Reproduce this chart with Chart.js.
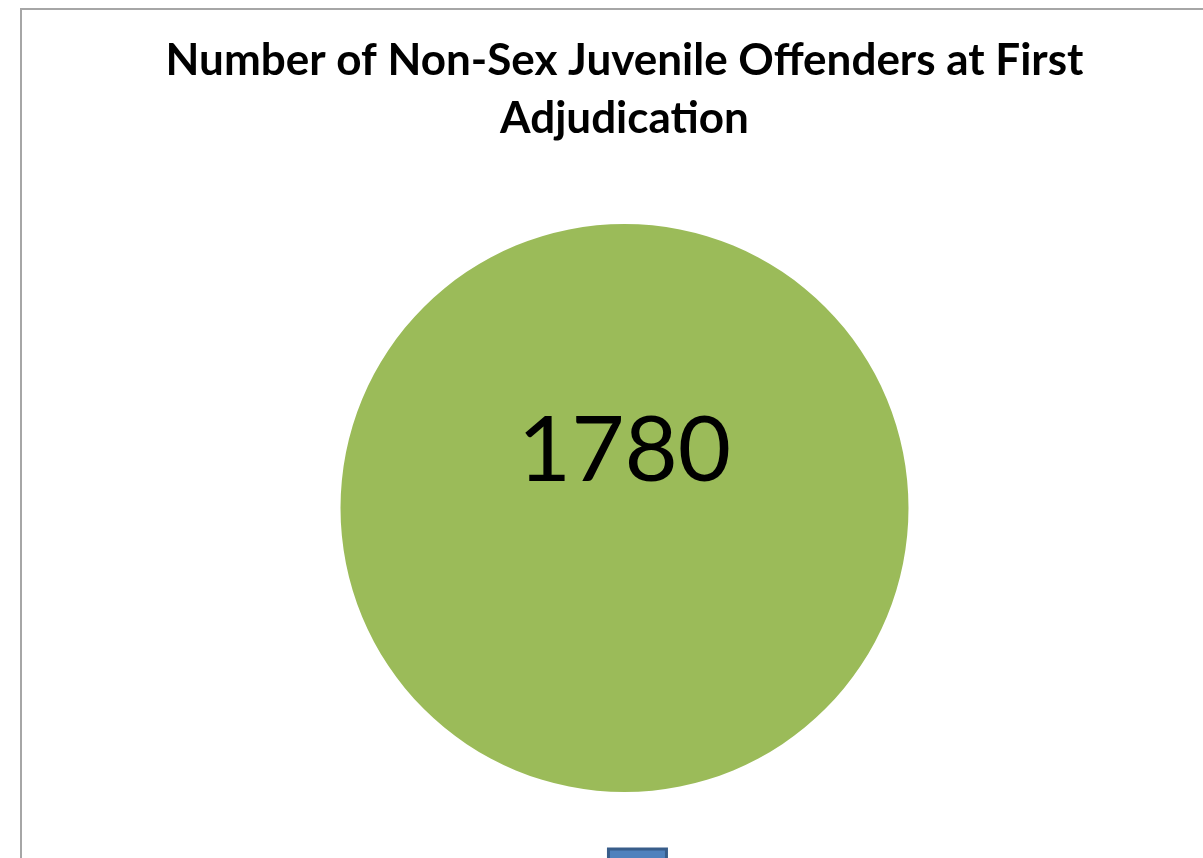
<!DOCTYPE html>
<html>
<head>
<meta charset="utf-8">
<script src="https://cdn.jsdelivr.net/npm/chart.js@4.4.0/dist/chart.umd.min.js"></script>
<style>
    html, body { margin: 0; padding: 0; background: #ffffff; overflow: hidden; }
    #marc {
        position: absolute;
        left: 20px;
        top: 8px;
        width: 1205px;
        height: 907px;
        border: 2px solid #a6a6a6;
        background: #ffffff;
    }
    #grafica { display: block; }
</style>
</head>
<body>
<div id="marc"><canvas id="grafica" width="1205" height="907"></canvas></div>
<script>
// dades del gràfic
var titol = ['Number of Non-Sex Juvenile Offenders at First', 'Adjudication'];
var categories = ['1'];
var valors = [1780];
var colorsPorcio = ['#9BBB59'];
var colorsLlegenda = ['#4F81BD'];
var vorasLlegenda = ['#385D8A'];

// etiqueta del valor dins del pastís
const etiquetaValor = {
    id: 'etiquetaValor',
    afterDatasetsDraw(chart) {
        const ctx = chart.ctx;
        const meta = chart.getDatasetMeta(0);
        meta.data.forEach(function (arc, i) {
            ctx.save();
            ctx.fillStyle = '#000000';
            ctx.font = '92px Lato';
            ctx.textAlign = 'center';
            ctx.textBaseline = 'middle';
            ctx.fillText(String(valors[i]), arc.x, arc.y - arc.outerRadius * 0.2);
            ctx.restore();
        });
    }
};

window.onload = function () {
    const ctx = document.getElementById('grafica');
    const grafica = new Chart(ctx, {
        type: 'pie',
        data: {
            labels: categories,
            datasets: [{
                data: valors,
                backgroundColor: colorsPorcio,
                borderWidth: 0
            }]
        },
        options: {
            responsive: false,
            animation: false,
            layout: { padding: 0 },
            plugins: {
                title: {
                    display: true,
                    text: titol,
                    color: '#000000',
                    font: { family: 'Lato', size: 44, weight: 'bold', lineHeight: 58 / 44 },
                    padding: { top: 22, bottom: 76 }
                },
                legend: {
                    display: true,
                    position: 'bottom',
                    rtl: true,
                    labels: {
                        boxWidth: 58,
                        boxHeight: 58,
                        padding: 57,
                        font: { family: 'Lato', size: 24 },
                        color: '#000000',
                        generateLabels: function (chart) {
                            return categories.map(function (c, i) {
                                return {
                                    text: c,
                                    fillStyle: colorsLlegenda[i],
                                    strokeStyle: vorasLlegenda[i],
                                    lineWidth: 3,
                                    hidden: false,
                                    index: i
                                };
                            });
                        }
                    }
                },
                tooltip: { enabled: false }
            }
        },
        plugins: [etiquetaValor]
    });
};
</script>
</body>
</html>
